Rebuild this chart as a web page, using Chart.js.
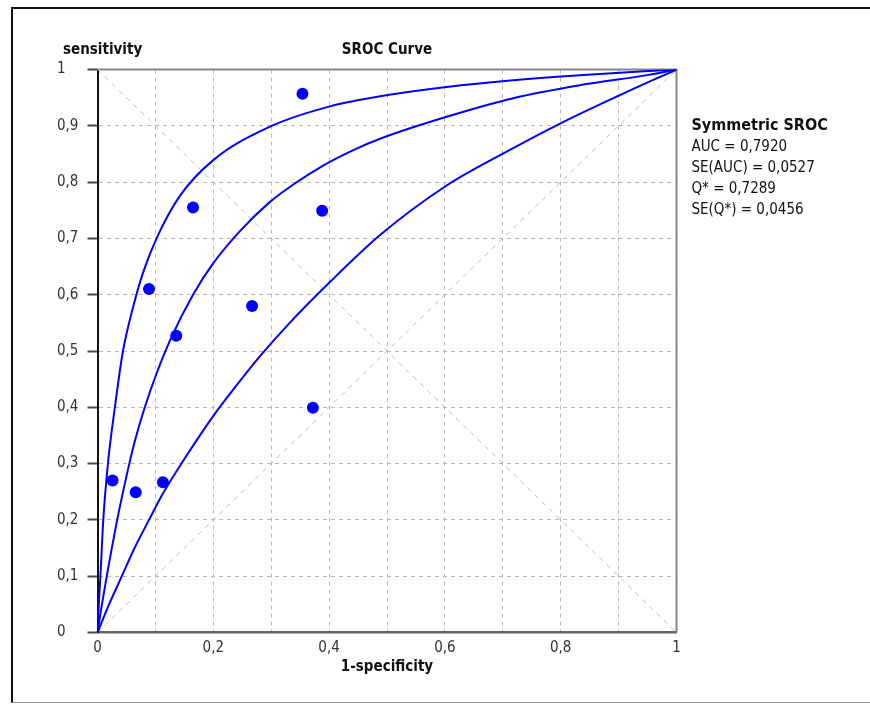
<!DOCTYPE html>
<html lang="en">
  <head>
    <meta charset="UTF-8" />
    <title>SROC Curve</title>
    <style>
      body { margin: 0; background: #fff; overflow: hidden; }
      .frame {
        position: absolute; left: 11px; top: 7px; width: 880px; height: 693px;
        border-left: 2px solid #111; border-top: 2px solid #111; border-bottom: 1px solid #999;
      }
      #sroc { position: absolute; left: 0; top: 0; }
    </style>
  </head>
  <body>
    <div class="frame"></div>
    <canvas id="sroc" width="870" height="704"></canvas>

    <script src="https://cdn.jsdelivr.net/npm/chart.js"></script>

    <script>
      // studies (1-specificity, sensitivity)
      const studyFpr = [0.354, 0.165, 0.388, 0.089, 0.136, 0.267, 0.372, 0.026, 0.066, 0.113];
      const studySens = [0.957, 0.755, 0.749, 0.610, 0.527, 0.580, 0.399, 0.270, 0.249, 0.267];

      // upper curve
      const upperFpr = [0, 0.002, 0.005, 0.010, 0.018, 0.030, 0.044, 0.062, 0.079, 0.102, 0.142, 0.200, 0.297, 0.400, 0.504, 0.603, 0.718, 0.833, 1];
      const upperSens = [0, 0.045, 0.100, 0.200, 0.300, 0.400, 0.500, 0.580, 0.640, 0.700, 0.775, 0.839, 0.898, 0.934, 0.955, 0.969, 0.981, 0.990, 1];

      // symmetric SROC
      const srocFpr = [0, 0.007, 0.016, 0.034, 0.055, 0.065, 0.082, 0.102, 0.128, 0.165, 0.200, 0.246, 0.297, 0.340, 0.389, 0.440, 0.488, 0.603, 0.718, 0.833, 0.949, 1];
      const srocSens = [0, 0.046, 0.100, 0.200, 0.300, 0.342, 0.401, 0.460, 0.525, 0.600, 0.656, 0.713, 0.764, 0.797, 0.829, 0.856, 0.877, 0.916, 0.949, 0.972, 0.990, 1];

      // lower curve
      const lowerFpr = [0, 0.020, 0.042, 0.064, 0.089, 0.112, 0.148, 0.205, 0.234, 0.280, 0.332, 0.401, 0.488, 0.603, 0.701, 0.799, 0.897, 1];
      const lowerSens = [0, 0.050, 0.100, 0.150, 0.200, 0.245, 0.305, 0.392, 0.431, 0.490, 0.550, 0.622, 0.706, 0.794, 0.851, 0.904, 0.952, 1];

      // reference diagonals
      const diagX = [0, 1];
      const diagUp = [0, 1];
      const diagDown = [1, 0];

      const chartTitle = "SROC Curve";
      const yTitle = "sensitivity";
      const xTitle = "1-specificity";
      const legendTitle = "Symmetric SROC";
      const legendLines = ["AUC = 0,7920", "SE(AUC) = 0,0527", "Q* = 0,7289", "SE(Q*) = 0,0456"];

      const FONT = "'DejaVu Sans Condensed', 'DejaVu Sans', sans-serif";
      const BLUE = "#0000ff";

      const pts = (xs, ys) => xs.map((x, i) => ({ x: x, y: ys[i] }));
      const fmt = (v) => {
        const r = Math.round(v * 10) / 10;
        if (r === 0 || r === 1) return String(r);
        return r.toFixed(1).replace(".", ",");
      };

      const curve = (xs, ys) => ({
        type: "line",
        data: pts(xs, ys),
        borderColor: BLUE,
        borderWidth: 2,
        pointRadius: 0,
        fill: false,
        cubicInterpolationMode: "monotone",
      });

      const diag = (ys) => ({
        type: "line",
        data: pts(diagX, ys),
        borderColor: "#bdbdbd",
        borderWidth: 1,
        borderDash: [5, 5],
        pointRadius: 0,
        fill: false,
      });

      const srocText = {
        id: "srocText",
        beforeDatasetsDraw(chart) {
          const { ctx, chartArea: a } = chart;
          ctx.save();
          ctx.strokeStyle = "#888";
          ctx.lineWidth = 2;
          ctx.beginPath();
          ctx.moveTo(a.left, a.top);
          ctx.lineTo(a.right, a.top);
          ctx.lineTo(a.right, a.bottom);
          ctx.stroke();
          ctx.restore();
        },
        afterDraw(chart) {
          const { ctx, chartArea: a } = chart;
          const mid = (a.left + a.right) / 2;
          ctx.save();
          ctx.fillStyle = "#111";
          ctx.textBaseline = "alphabetic";
          ctx.font = "bold 15px " + FONT;
          ctx.textAlign = "left";
          ctx.fillText(yTitle, 63, 54);
          ctx.textAlign = "center";
          ctx.fillText(chartTitle, mid, 54);
          ctx.fillText(xTitle, mid, 671);
          ctx.textAlign = "left";
          const lx = a.right + 15;
          ctx.font = "bold 16px " + FONT;
          ctx.fillText(legendTitle, lx, 130);
          ctx.font = "15px " + FONT;
          legendLines.forEach((t, i) => ctx.fillText(t, lx, 151 + i * 21));
          ctx.restore();
        },
      };

      const ctx = document.getElementById("sroc");

      new Chart(ctx, {
        type: "scatter",
        data: {
          datasets: [
            {
              data: pts(studyFpr, studySens),
              backgroundColor: BLUE,
              borderWidth: 0,
              pointRadius: 6,
            },
            curve(upperFpr, upperSens),
            curve(srocFpr, srocSens),
            curve(lowerFpr, lowerSens),
            diag(diagUp),
            diag(diagDown),
          ],
        },
        options: {
          responsive: false,
          animation: false,
          layout: { padding: { left: 57, top: 69.5, right: 193.5, bottom: 0 } },
          plugins: {
            legend: { display: false },
            tooltip: { enabled: false },
          },
          scales: {
            x: {
              type: "linear",
              min: 0,
              max: 1,
              afterFit: (scale) => { scale.height = 71.5; },
              ticks: {
                stepSize: 0.1,
                autoSkip: false,
                maxRotation: 0,
                padding: 7,
                color: "#333",
                font: { family: FONT, size: 15 },
                callback: (v) => (Math.round(v * 10) % 2 === 0 ? fmt(v) : ""),
              },
              grid: { color: "#b8b8b8", lineWidth: 1, drawTicks: false },
              border: { color: "#666", width: 2.5, dash: [4, 4] },
            },
            y: {
              type: "linear",
              min: 0,
              max: 1,
              afterFit: (scale) => { scale.width = 40.5; },
              ticks: {
                stepSize: 0.1,
                autoSkip: false,
                crossAlign: "far",
                padding: 6,
                color: "#333",
                font: { family: FONT, size: 15 },
                callback: (v) => fmt(v),
              },
              grid: {
                color: "#b8b8b8",
                lineWidth: 1,
                drawTicks: true,
                tickLength: 10,
                tickColor: "#444",
                tickWidth: 2,
                tickBorderDash: [],
              },
              border: { color: "#111", width: 2, dash: [4, 4] },
            },
          },
        },
        plugins: [srocText],
      });
    </script>
  </body>
</html>
